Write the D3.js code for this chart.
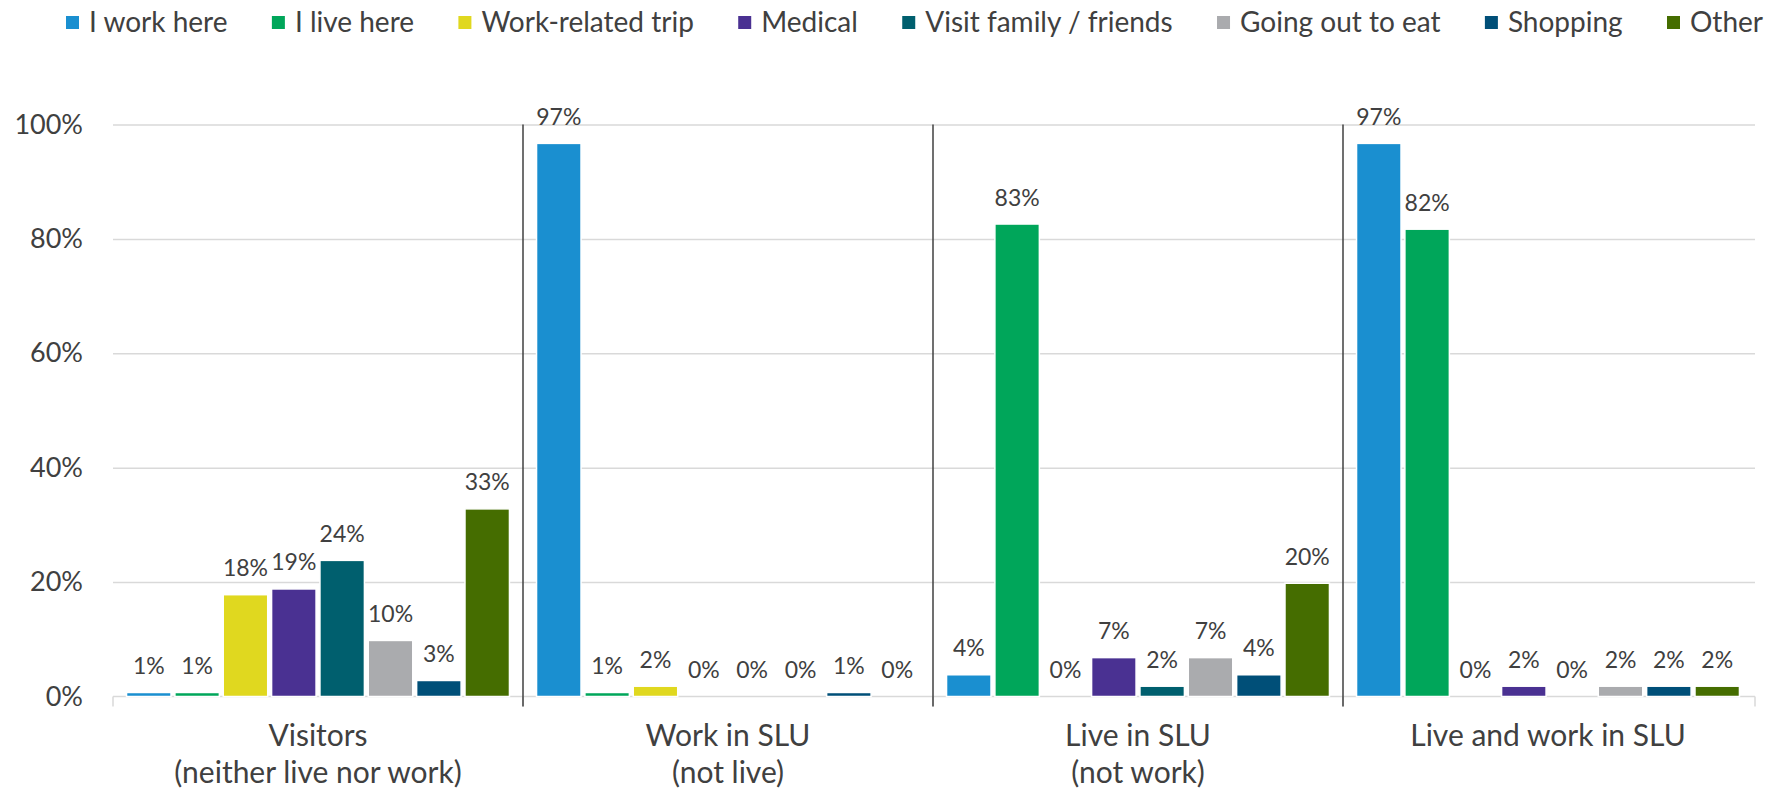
<!DOCTYPE html>
<html>
<head>
<meta charset="utf-8">
<script src="https://cdn.jsdelivr.net/npm/d3@7"></script>
<style>
    body { margin: 0; background: #fff; }
    svg text { font-family: Lato, "Open Sans", sans-serif; fill: #404040; }
</style>
</head>
<body>
<svg id="vis1"></svg>
<script>
// categories (each label split into lines)
const categories = [
    ["Visitors", "(neither live nor work)"],
    ["Work in SLU", "(not live)"],
    ["Live in SLU", "(not work)"],
    ["Live and work in SLU"]
];

const seriesNames = [
    "I work here",
    "I live here",
    "Work-related trip",
    "Medical",
    "Visit family / friends",
    "Going out to eat",
    "Shopping",
    "Other"
];

const seriesColors = ["#1a8fd0", "#00a65a", "#e0d81f", "#4a3192", "#005f6e", "#aaabae", "#004f78", "#456d00"];

// percent values, one array per category, in series order
const visitors    = [0.7, 0.7, 17.8, 18.8, 23.8, 9.8, 2.8, 32.8];
const workInSLU   = [96.7, 0.7, 1.8, 0, 0, 0, 0.7, 0];
const liveInSLU   = [3.8, 82.6, 0, 6.8, 1.8, 6.8, 3.8, 19.8];
const liveAndWork = [96.7, 81.7, 0, 1.8, 0, 1.8, 1.8, 1.8];

const yTicks = [0, 20, 40, 60, 80, 100];

var width = 1779,
    height = 791;

const margin = {
    top: 124.5,
    bottom: 94.5,
    left: 113,
    right: 26
};

var svg = d3.select("svg#vis1").attr("width", width).attr("height", height);

var rows = [visitors, workInSLU, liveInSLU, liveAndWork];

var x0 = d3.scaleBand()
    .domain(d3.range(categories.length))
    .range([margin.left, width - margin.right])
    .padding(0);

var x1 = d3.scaleBand()
    .domain(d3.range(seriesNames.length))
    .range([0, x0.bandwidth()])
    .paddingInner(0.08)
    .paddingOuter(0.28);

var y = d3.scaleLinear()
    .domain([0, 100])
    .range([height - margin.bottom, margin.top]);

function translate(x, y) {
    return "translate(" + String(x) + "," + String(y) + ")";
}

// gridlines + y tick labels
var yAxis = d3.axisLeft(y)
    .tickValues(yTicks)
    .tickSize(-(width - margin.left - margin.right + 2))
    .tickFormat(d => d + "%");

var yG = svg.append("g").attr("transform", translate(margin.left, 0)).call(yAxis);
yG.select(".domain").remove();
yG.selectAll(".tick line").attr("stroke", "#d9d9d9").attr("stroke-width", 1.5);
yG.selectAll(".tick text")
    .attr("font-size", 27)
    .attr("font-family", null)
    .attr("x", -30);
yG.selectAll(".tick").filter(d => d === 0).select("line").remove();

// x axis line and group ticks
var xG = svg.append("g").attr("transform", translate(0, y(0)));
xG.append("line")
    .attr("x1", margin.left).attr("x2", width - margin.right + 2)
    .attr("stroke", "#d9d9d9").attr("stroke-width", 1.5);
xG.selectAll("line.gtick")
    .data(d3.range(categories.length + 1))
    .enter()
    .append("line")
    .attr("class", "gtick")
    .attr("x1", d => d < categories.length ? x0(d) : x0(d - 1) + x0.bandwidth() + 2)
    .attr("x2", d => d < categories.length ? x0(d) : x0(d - 1) + x0.bandwidth() + 2)
    .attr("y1", 0).attr("y2", 10)
    .attr("stroke", "#d9d9d9").attr("stroke-width", 1.5);

// bars
var groups = svg.selectAll("g.cat")
    .data(rows)
    .enter()
    .append("g")
    .attr("class", "cat")
    .attr("transform", (d, i) => translate(x0(i), 0));

groups.selectAll("rect")
    .data(d => d)
    .enter()
    .append("rect")
    .attr("x", (d, i) => x1(i))
    .attr("width", x1.bandwidth())
    .attr("y", d => y(d))
    .attr("height", d => y(0) - y(d))
    .attr("fill", (d, i) => seriesColors[i])
    .attr("stroke", "#fff")
    .attr("stroke-width", 1.5);

groups.selectAll("text.lbl")
    .data(d => d)
    .enter()
    .append("text")
    .attr("class", "lbl")
    .attr("x", (d, i) => x1(i) + x1.bandwidth() / 2)
    .attr("y", d => y(d) - 18.5)
    .attr("text-anchor", "middle")
    .attr("font-size", 23)
    .text(d => Math.round(d) + "%");

// separators between categories
svg.selectAll("line.sep")
    .data(d3.range(1, categories.length))
    .enter()
    .append("line")
    .attr("class", "sep")
    .attr("x1", d => x0(d)).attr("x2", d => x0(d))
    .attr("y1", y(100)).attr("y2", y(0) + 10)
    .attr("stroke", "#404040").attr("stroke-width", 1.5);

// category labels
svg.selectAll("text.cat")
    .data(categories)
    .enter()
    .append("text")
    .attr("class", "cat")
    .attr("text-anchor", "middle")
    .attr("font-size", 30)
    .attr("transform", (d, i) => translate(x0(i) + x0.bandwidth() / 2, 746))
    .selectAll("tspan")
    .data(d => d)
    .enter()
    .append("tspan")
    .attr("x", 0)
    .attr("y", (d, i) => i * 37)
    .text(d => d);

// legend
var legend = svg.append("g").attr("id", "legend");
var items = legend.selectAll("g.item")
    .data(seriesNames)
    .enter()
    .append("g")
    .attr("class", "item");

items.append("rect")
    .attr("y", 16).attr("width", 13).attr("height", 13)
    .attr("fill", (d, i) => seriesColors[i]);

items.append("text")
    .attr("x", 23).attr("y", 32)
    .attr("font-size", 28)
    .text(d => d);

// spread items between the measured left and right ends
var legendLeft = 66, legendRight = 1763;
var itemWidths = [];
items.select("text").each(function() { itemWidths.push(23 + this.getComputedTextLength()); });
var gap = (legendRight - legendLeft - d3.sum(itemWidths)) / (seriesNames.length - 1);
var pos = legendLeft;
items.attr("transform", function(d, i) {
    let t = translate(pos, 0);
    pos += itemWidths[i] + gap;
    return t;
});
</script>
</body>
</html>
